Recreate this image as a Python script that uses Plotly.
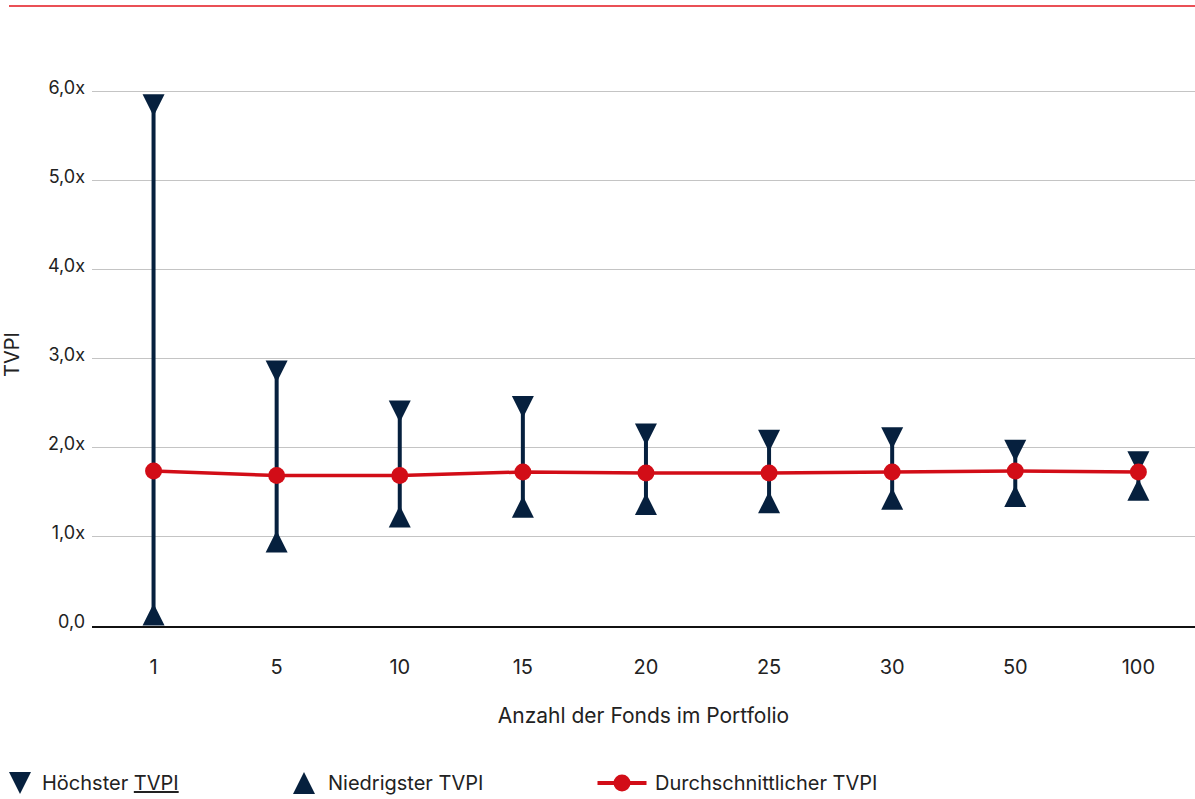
import plotly.graph_objects as go

# Portfolio size (number of funds) and TVPI statistics per size
fund_counts = ["1", "5", "10", "15", "20", "25", "30", "50", "100"]
tvpi_high = [5.85, 2.86, 2.41, 2.46, 2.15, 2.08, 2.11, 1.97, 1.84]
tvpi_low = [0.13, 0.95, 1.23, 1.34, 1.37, 1.39, 1.43, 1.46, 1.53]
tvpi_mean = [1.74, 1.69, 1.69, 1.73, 1.72, 1.72, 1.73, 1.74, 1.73]

y_tick_values = [0, 1, 2, 3, 4, 5, 6]
y_tick_labels = ["0,0", "1,0x", "2,0x", "3,0x", "4,0x", "5,0x", "6,0x"]

NAVY = "#06203e"
RED = "#d20d17"
TEXT = "#222222"
FONT = "Inter"
W, H = 1195, 799
TRI = 22  # triangle marker size

fig = go.Figure()

# vertical range lines from lowest to highest TVPI
range_x, range_y = [], []
for cat, lo, hi in zip(fund_counts, tvpi_low, tvpi_high):
    range_x += [cat, cat, None]
    range_y += [lo, hi, None]
fig.add_trace(go.Scatter(
    x=range_x, y=range_y, mode="lines",
    line=dict(color=NAVY, width=4), showlegend=False, hoverinfo="skip",
))

# highest TVPI: downward triangle centred on the value
fig.add_trace(go.Scatter(
    x=fund_counts, y=tvpi_high, mode="markers", name="Höchster TVPI",
    marker=dict(symbol="arrow-down", size=TRI, color=NAVY, angle=0,
                standoff=TRI / 2, line=dict(width=0)),
    showlegend=False, cliponaxis=False,
))

# lowest TVPI: upward triangle centred on the value
fig.add_trace(go.Scatter(
    x=fund_counts, y=tvpi_low, mode="markers", name="Niedrigster TVPI",
    marker=dict(symbol="arrow-down", size=TRI, color=NAVY, angle=180,
                standoff=TRI / 2, line=dict(width=0)),
    showlegend=False, cliponaxis=False,
))

# average TVPI
fig.add_trace(go.Scatter(
    x=fund_counts, y=tvpi_mean, mode="lines+markers", name="Durchschnittlicher TVPI",
    line=dict(color=RED, width=3.5),
    marker=dict(symbol="circle", size=17, color=RED),
    showlegend=False, cliponaxis=False,
))

# legend row drawn on a full-page helper subplot (pixel units)
legend_y = 783
fig.add_trace(go.Scatter(
    x=[20], y=[legend_y], xaxis="x2", yaxis="y2", mode="markers",
    marker=dict(symbol="arrow-down", size=TRI, color=NAVY, angle=0, standoff=TRI / 2),
    showlegend=False, hoverinfo="skip", cliponaxis=False,
))
fig.add_trace(go.Scatter(
    x=[304], y=[legend_y], xaxis="x2", yaxis="y2", mode="markers",
    marker=dict(symbol="arrow-down", size=TRI, color=NAVY, angle=180, standoff=TRI / 2),
    showlegend=False, hoverinfo="skip", cliponaxis=False,
))
fig.add_trace(go.Scatter(
    x=[622], y=[legend_y], xaxis="x2", yaxis="y2", mode="markers",
    marker=dict(symbol="line-ew", size=35, color=RED, line=dict(color=RED, width=4)),
    showlegend=False, hoverinfo="skip", cliponaxis=False,
))
fig.add_trace(go.Scatter(
    x=[622], y=[legend_y], xaxis="x2", yaxis="y2", mode="markers",
    marker=dict(symbol="circle", size=17, color=RED),
    showlegend=False, hoverinfo="skip", cliponaxis=False,
))

legend_labels = [(40, "Höchster <u>TVPI</u>"), (326, "Niedrigster TVPI"),
                 (653, "Durchschnittlicher TVPI")]
for lx, txt in legend_labels:
    fig.add_annotation(
        x=lx, y=legend_y, xref="x2", yref="y2", text=txt, showarrow=False,
        xanchor="left", yanchor="middle", font=dict(family=FONT, size=20, color=TEXT),
    )

# thin red rule across the top
fig.add_shape(type="line", xref="paper", yref="paper",
              x0=9 / W, x1=1, y0=1 - 6 / H, y1=1 - 6 / H,
              line=dict(color="#e3161e", width=1.5))

plot_left, plot_bottom, plot_top = 92, 626, 83
fig.update_layout(
    width=W, height=H,
    margin=dict(l=0, r=0, t=0, b=0),
    paper_bgcolor="white", plot_bgcolor="rgba(0,0,0,0)",
    font=dict(family=FONT, color=TEXT, size=18),
    xaxis=dict(
        type="category", domain=[plot_left / W, 1], range=[-0.5, 8.46],
        showgrid=False, showline=True, linecolor="#111111", linewidth=1.5,
        ticks="", ticklabelstandoff=22, tickfont=dict(size=20, color=TEXT),
        title=dict(text="Anzahl der Fonds im Portfolio", font=dict(size=21, color=TEXT),
                   standoff=31),
        automargin=False, fixedrange=True,
    ),
    yaxis=dict(
        domain=[1 - plot_bottom / H, 1 - plot_top / H], range=[0, 6.1],
        tickvals=y_tick_values, ticktext=y_tick_labels,
        showgrid=True, gridcolor="#c4c4c4", gridwidth=1,
        zeroline=False, showline=False, ticks="",
        ticklabelstandoff=6, ticklabelshift=-4,
        tickfont=dict(size=18, color=TEXT),
        title=dict(text="TVPI", font=dict(size=20, color=TEXT), standoff=24),
        automargin=False, fixedrange=True,
    ),
    xaxis2=dict(domain=[0, 1], range=[0, W], visible=False, anchor="y2", fixedrange=True),
    yaxis2=dict(domain=[0, 1], range=[H, 0], visible=False, anchor="x2", fixedrange=True),
)

fig.write_html("out.html")
